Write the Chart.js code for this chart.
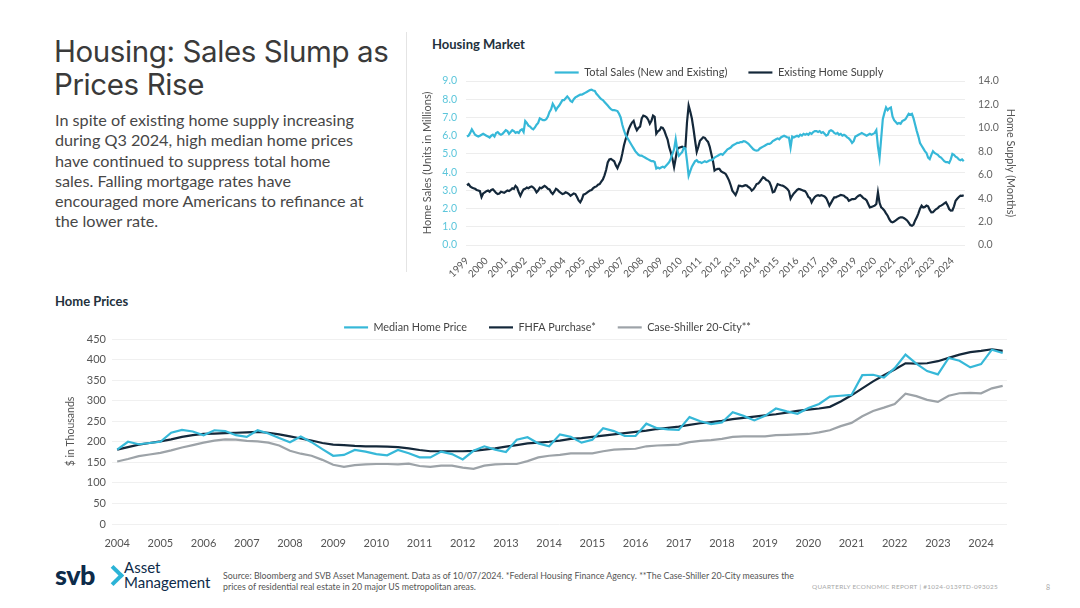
<!DOCTYPE html>
<html><head><meta charset="utf-8">
<script src="https://cdn.jsdelivr.net/npm/chart.js@4.4.1/dist/chart.umd.min.js"></script>
<style>
html,body{margin:0;padding:0;background:#fff;}
body{width:1080px;height:608px;position:relative;overflow:hidden;font-family:Lato,'Open Sans',sans-serif;color:#3f3f3f;}
.abs{position:absolute;}
#title{left:54px;top:35px;font-family:Inter,Lato,sans-serif;font-size:29.5px;line-height:33px;color:#3a3a3a;letter-spacing:-0.4px;white-space:nowrap;}
#body{left:55px;top:110px;font-size:16.2px;line-height:20.3px;color:#474747;white-space:nowrap;}
#sep{left:406px;top:32px;width:1px;height:240px;background:#e4e4e4;}
#hmTitle{left:432px;top:36px;font-size:13px;font-weight:700;color:#23313c;}
#hpTitle{left:55px;top:293px;font-size:13px;font-weight:700;color:#23313c;}
#top{left:415px;top:46px;width:615px;height:237px;}
#bottom{left:50px;top:300px;width:1000px;height:253px;}
#svb{left:55px;top:558px;font-size:27px;font-weight:900;color:#0d2b4a;letter-spacing:-0.5px;}
#chev{left:106px;top:568px;width:11px;height:11px;border-right:4px solid #2bb3d6;border-top:4px solid #2bb3d6;transform:rotate(45deg);}
#am{left:124px;top:560px;font-size:15px;line-height:15px;color:#0d2b4a;}
#src{left:223px;top:570px;font-size:8.8px;line-height:11px;color:#555;white-space:nowrap;}
#qer{left:812px;top:583px;font-size:6.4px;color:#a8a8a8;letter-spacing:0.3px;white-space:nowrap;}
#pg{left:1046px;top:583px;font-size:7px;color:#a8a8a8;}
</style></head>
<body>
<div id="title" class="abs">Housing: Sales Slump as<br>Prices Rise</div>
<div id="body" class="abs">In spite of existing home supply increasing<br>during Q3 2024, high median home prices<br>have continued to suppress total home<br>sales. Falling mortgage rates have<br>encouraged more Americans to refinance at<br>the lower rate.</div>
<div id="sep" class="abs"></div>
<div id="hmTitle" class="abs">Housing Market</div>
<div id="hpTitle" class="abs">Home Prices</div>
<div id="top" class="abs"><canvas id="c1" width="615" height="237"></canvas></div>
<div id="bottom" class="abs"><canvas id="c2" width="1000" height="253"></canvas></div>
<div id="svb" class="abs">svb</div>
<div id="chev" class="abs"></div>
<div id="am" class="abs">Asset<br>Management</div>
<div id="src" class="abs">Source: Bloomberg and SVB Asset Management. Data as of 10/07/2024. *Federal Housing Finance Agency. **The Case-Shiller 20-City measures the<br>prices of residential real estate in 20 major US metropolitan areas.</div>
<div id="qer" class="abs">QUARTERLY ECONOMIC REPORT | #1024-0139TD-093025</div>
<div id="pg" class="abs">8</div>
<script>
// ---------- Housing Market (monthly, Jan 1999 - Aug 2024) ----------
const housingStartYear = 1999;
const housingYearLabels = [1999,2000,2001,2002,2003,2004,2005,2006,2007,2008,2009,2010,2011,2012,2013,2014,2015,2016,2017,2018,2019,2020,2021,2022,2023,2024];
const totalSales = [
5.95,6.00,6.15,6.35,6.20,6.05,6.00,5.95,6.00,6.05,6.10,6.05,
6.00,5.95,5.90,6.00,6.05,5.95,6.15,6.20,6.10,6.05,6.10,6.20,
6.30,6.25,6.10,6.20,6.30,6.25,6.15,6.20,6.15,6.30,6.35,6.20,
6.80,6.70,6.55,6.50,6.40,6.35,6.45,6.60,6.70,6.95,6.90,6.85,
6.85,6.90,7.05,7.30,7.45,7.75,7.60,7.40,7.55,7.65,7.80,7.95,
7.95,8.05,8.15,8.05,7.90,7.85,8.00,8.10,8.15,8.20,8.25,8.25,
8.30,8.35,8.40,8.45,8.50,8.52,8.48,8.45,8.30,8.20,8.10,8.00,
7.95,7.85,7.75,7.65,7.55,7.45,7.40,7.40,7.38,7.35,7.20,7.00,
6.60,6.30,6.05,5.90,5.75,5.60,5.45,5.30,5.15,5.05,4.95,4.90,
4.90,4.85,4.80,4.75,4.70,4.65,4.60,4.60,4.55,4.20,4.25,4.20,
4.25,4.30,4.25,4.35,4.45,4.55,4.75,5.00,5.25,5.80,5.20,4.90,
5.00,5.10,5.35,5.30,4.60,3.80,4.05,4.30,4.45,4.60,4.65,4.55,
4.55,4.50,4.55,4.60,4.55,4.60,4.65,4.65,4.70,4.80,4.85,4.90,
4.95,5.00,4.95,5.05,5.15,5.25,5.30,5.35,5.45,5.50,5.55,5.60,
5.60,5.65,5.65,5.70,5.68,5.62,5.55,5.45,5.35,5.25,5.20,5.18,
5.20,5.30,5.35,5.40,5.45,5.50,5.55,5.55,5.60,5.70,5.75,5.80,
5.85,5.80,5.90,5.95,6.00,5.95,5.90,5.90,5.35,5.95,5.90,5.95,
6.00,5.95,6.05,6.00,6.10,6.05,6.10,6.05,6.15,6.10,6.20,6.25,
6.25,6.20,6.25,6.15,6.20,6.10,6.00,6.05,6.25,6.30,6.25,6.15,
6.10,6.15,6.05,6.10,6.00,6.05,6.00,5.90,5.85,5.75,5.60,5.70,
5.95,6.00,6.05,6.10,6.15,6.10,6.05,6.00,6.05,6.10,6.05,6.10,
6.15,6.30,5.40,4.80,5.85,6.90,7.25,7.55,7.40,7.50,7.55,7.05,
6.85,6.75,6.65,6.70,6.65,6.80,6.85,6.90,7.05,7.20,7.15,7.20,
6.95,6.60,6.25,5.95,5.60,5.45,5.30,5.15,5.05,4.80,4.72,4.95,
5.15,5.05,5.00,4.95,4.85,4.80,4.70,4.60,4.55,4.55,4.50,4.70,
5.00,4.95,4.85,4.80,4.70,4.65,4.70,4.60];
const homeSupply = [
5.10,5.20,5.00,4.90,4.85,4.80,4.70,4.65,4.60,4.10,4.40,4.50,
4.60,4.65,4.55,4.70,4.75,4.60,4.45,4.35,4.40,4.55,4.50,4.45,
4.55,4.65,4.60,4.70,4.85,4.80,5.05,4.90,4.50,4.20,4.50,4.75,
4.80,4.90,4.85,4.95,5.00,4.90,4.75,4.50,4.65,4.90,4.85,4.95,
5.05,4.95,4.80,4.75,4.50,4.35,4.55,4.80,4.70,4.55,4.45,4.35,
4.40,4.50,4.45,4.35,4.20,4.30,4.40,4.35,4.10,3.80,3.64,3.90,
4.30,4.35,4.45,4.55,4.65,4.70,4.85,4.95,5.00,5.15,5.20,5.40,
5.60,5.95,6.40,7.05,7.30,7.35,7.25,7.15,6.80,6.55,6.90,7.20,
7.80,8.50,9.00,9.40,9.90,10.20,10.45,10.60,10.10,9.80,10.00,10.10,
10.80,11.05,11.00,10.90,10.70,10.35,10.60,11.05,10.95,9.50,9.70,9.80,
10.05,10.00,9.75,9.35,9.00,8.35,7.90,7.35,6.65,7.40,8.20,8.30,
8.35,8.40,8.35,8.35,10.50,11.90,11.40,10.80,9.90,8.90,7.95,8.40,
8.90,9.05,9.20,9.15,8.95,8.80,8.40,7.80,7.20,6.35,6.45,6.50,
6.50,6.30,6.20,6.15,6.05,5.78,5.50,5.10,4.64,4.45,4.27,4.60,
5.07,5.05,5.00,5.05,5.10,5.07,4.95,4.85,4.64,4.75,4.95,5.20,
5.25,5.40,5.60,5.78,5.70,5.55,5.50,5.35,5.00,4.50,4.55,4.90,
5.20,5.15,5.10,5.07,5.00,4.90,4.78,4.60,3.95,4.20,4.40,4.55,
4.70,4.78,4.75,4.70,4.64,4.60,4.40,4.10,4.00,3.64,3.90,4.10,
4.21,4.25,4.20,4.25,4.21,4.15,4.00,3.70,3.36,3.60,3.85,4.07,
4.07,4.15,4.20,4.27,4.25,4.20,4.07,4.00,3.78,3.85,3.92,3.92,
3.95,4.10,4.20,4.27,4.15,4.00,3.93,3.80,3.50,3.21,3.25,3.30,
3.36,3.50,4.50,3.60,3.21,3.10,2.93,2.70,2.50,2.20,2.00,1.93,
2.00,2.10,2.21,2.30,2.36,2.36,2.30,2.21,2.10,1.90,1.70,1.64,
1.75,2.10,2.36,2.70,3.10,3.36,3.21,3.25,3.36,3.30,3.00,2.79,
2.80,2.95,3.07,3.15,3.30,3.36,3.45,3.55,3.64,3.40,3.07,2.93,
2.95,3.30,3.78,3.95,4.10,4.21,4.20,4.25];

// ---------- Home Prices (quarterly, 2004 - 2024, $ thousands) ----------
const pricesStartYear = 2004;
const priceYearLabels = [2004,2005,2006,2007,2008,2009,2010,2011,2012,2013,2014,2015,2016,2017,2018,2019,2020,2021,2022,2023,2024];
const medianHomePrice = [
181,200,194,197, 200,222,229,225, 216,228,226,216, 212,228,220,209,
199,213,199,182, 166,168,180,176, 170,167,180,172, 162,162,176,170,
157,178,189,181, 175,205,211,196, 189,218,212,198, 205,233,226,214,
214,244,233,230, 229,260,250,243, 247,272,263,252, 263,281,274,268,
282,292,310,312, 314,362,363,356, 379,412,390,372, 364,404,397,381,
389,424,416];
const fhfaPurchase = [
181,187,193,197, 201,206,212,216, 219,220,221,222, 223,224,222,218,
213,208,203,197, 193,192,190,189, 189,188,187,184, 180,177,177,177,
177,178,181,184, 188,192,196,198, 200,203,207,209, 212,215,218,221,
224,227,231,234, 237,241,245,248, 251,255,258,261, 264,267,271,275,
278,281,285,298, 313,330,347,362, 376,391,390,391, 396,404,412,418,
421,425,421];
const caseShiller = [
152,158,165,169, 173,179,186,192, 198,203,206,205, 202,201,198,191,
178,171,166,156, 144,139,143,145, 146,146,145,147, 141,139,142,142,
137,134,142,145, 146,146,153,162, 166,168,172,172, 172,177,181,182,
183,189,191,192, 193,199,202,204, 207,212,213,213, 213,216,217,218,
219,223,228,238, 246,262,275,283, 292,317,311,302, 297,312,318,319,
318,330,336];

const CYAN = '#36b8d8';
const NAVY = '#14283a';
const GREY = '#9da3a8';
const FONT = 'Lato';

const monthly = (arr, start) => arr.map((v, i) => ({x: start + i / 12, y: v}));
const quarterly = (arr, start) => arr.map((v, i) => ({x: start + i / 4, y: v}));

Chart.defaults.font.family = FONT;
Chart.defaults.animation = false;

// fixes the legend box height and lets it be nudged sideways
const legendBoxPlugin = {
  id: 'legendBox',
  beforeLayout(chart, args, opts) {
    const lg = chart.legend;
    if (lg && !lg._fixedH) {
      const orig = lg.fit.bind(lg);
      lg.fit = function () { orig(); this.height = opts.height; };
      lg._fixedH = true;
    }
  },
  afterLayout(chart, args, opts) {
    const lg = chart.legend;
    if (lg && opts.shift) { lg.left += opts.shift; lg.right += opts.shift; }
  }
};

const legendOpts = (size, pad) => ({
  position: 'top', align: 'center',
  labels: {usePointStyle: true, pointStyle: 'line', pointStyleWidth: 24, boxHeight: 8,
           font: {size: size}, color: '#444', padding: pad}
});

new Chart(document.getElementById('c1'), {
  type: 'line',
  plugins: [legendBoxPlugin],
  data: {
    datasets: [
      {label: 'Total Sales (New and Existing)', data: monthly(totalSales, housingStartYear), yAxisID: 'ySales',
       borderColor: CYAN, backgroundColor: CYAN, borderWidth: 2.2, pointRadius: 0, tension: 0},
      {label: 'Existing Home Supply', data: monthly(homeSupply, housingStartYear), yAxisID: 'ySupply',
       borderColor: NAVY, backgroundColor: NAVY, borderWidth: 2.2, pointRadius: 0, tension: 0}
    ]
  },
  options: {
    responsive: false, maintainAspectRatio: false,
    layout: {padding: {left: 5, right: 12, top: 0, bottom: 3}},
    plugins: {legend: legendOpts(11, 21), legendBox: {height: 35, shift: 0}, tooltip: {enabled: false}},
    scales: {
      x: {type: 'linear', min: 1998.95, max: 2024.65,
          afterBuildTicks: s => { s.ticks = housingYearLabels.map(v => ({value: v})); },
          afterFit: s => { s.height = 35; },
          ticks: {autoSkip: false, minRotation: 45, maxRotation: 45, padding: 2, color: '#555',
                  font: {size: 10}, callback: v => String(v)},
          grid: {display: false}, border: {display: false}},
      ySales: {position: 'left', min: 0, max: 9,
          afterFit: s => { s.width = 46; },
          ticks: {stepSize: 1, color: '#5cc6db', font: {size: 10.5}, padding: 9, callback: v => v.toFixed(1)},
          grid: {color: '#ededed', drawTicks: false}, border: {display: false},
          title: {display: true, text: 'Home Sales (Units in Millions)', color: '#555', font: {size: 11}, padding: {top: 1, bottom: 1}}},
      ySupply: {position: 'right', min: 0, max: 14,
          afterFit: s => { s.width = 53; },
          ticks: {stepSize: 2, color: '#666', font: {size: 10.5}, padding: 13, callback: v => v.toFixed(1)},
          grid: {display: false, drawTicks: false}, border: {display: false},
          title: {display: true, text: 'Home Supply (Months)', color: '#555', font: {size: 10.8}, padding: {top: 1, bottom: 1}}}
    }
  }
});

new Chart(document.getElementById('c2'), {
  type: 'line',
  plugins: [legendBoxPlugin],
  data: {
    datasets: [
      {label: 'Median Home Price', data: quarterly(medianHomePrice, pricesStartYear),
       borderColor: CYAN, backgroundColor: CYAN, borderWidth: 2.2, pointRadius: 0, tension: 0},
      {label: 'FHFA Purchase*', data: quarterly(fhfaPurchase, pricesStartYear),
       borderColor: NAVY, backgroundColor: NAVY, borderWidth: 2.2, pointRadius: 0, tension: 0},
      {label: 'Case-Shiller 20-City**', data: quarterly(caseShiller, pricesStartYear),
       borderColor: GREY, backgroundColor: GREY, borderWidth: 2.2, pointRadius: 0, tension: 0}
    ]
  },
  options: {
    responsive: false, maintainAspectRatio: false,
    layout: {padding: {left: 12, right: 43, top: 0, bottom: 4}},
    plugins: {legend: legendOpts(10.8, 22), legendBox: {height: 39, shift: 13}, tooltip: {enabled: false}},
    scales: {
      x: {type: 'linear', min: 2003.88, max: 2024.6,
          afterBuildTicks: s => { s.ticks = priceYearLabels.map(v => ({value: v})); },
          afterFit: s => { s.height = 25; },
          ticks: {autoSkip: false, maxRotation: 0, minRotation: 0, padding: 5, color: '#555',
                  font: {size: 11}, callback: v => String(v)},
          grid: {display: false}, border: {display: false}},
      y: {min: 0, max: 450,
          afterFit: s => { s.width = 50; },
          ticks: {stepSize: 50, color: '#555', font: {size: 11}, padding: 6},
          grid: {color: '#f0f0f0', drawTicks: false}, border: {display: false},
          title: {display: true, text: '$ in Thousands', color: '#555', font: {size: 10.5}, padding: {top: 2, bottom: 2}}}
    }
  }
});
</script>
</body></html>
